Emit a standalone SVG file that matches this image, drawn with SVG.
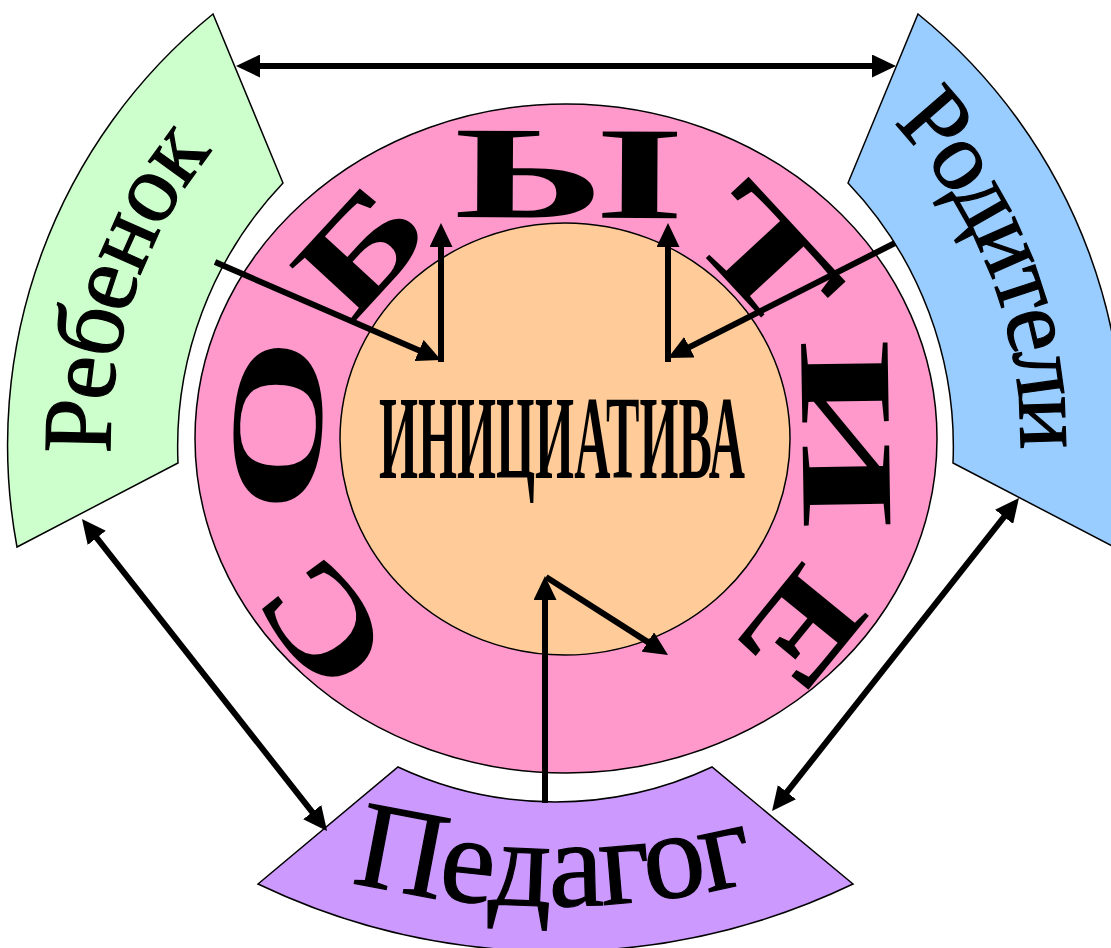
<svg xmlns="http://www.w3.org/2000/svg" width="1111" height="948" viewBox="0 0 1111 948">
<defs>
<style>
.sec{stroke:#000;stroke-width:1.5}
.ring{stroke:#000;stroke-width:1.5}
.lbl{font-family:"Liberation Serif","Times New Roman",serif;fill:#000;text-anchor:middle}
.heavy{stroke:#000;stroke-width:1.2}
.big{font-family:"Liberation Serif","Times New Roman",serif;font-weight:bold;font-size:132px;text-anchor:middle;fill:#000}
.conn line{stroke:#000;stroke-width:6;fill:none}
</style>
<marker id="ah" viewBox="0 0 24 23" markerWidth="24" markerHeight="23" refX="16" refY="11.5" orient="auto-start-reverse" markerUnits="userSpaceOnUse"><path d="M0,0 L24,11.5 L0,23 Z" fill="#000"/></marker>
<path id="pReb" d="M137.9,593.6 A455,455 0 0 1 304.5,65.3"/>
<path id="pRod" d="M793,44 A455,455 0 0 1 1005,555.8"/>
<path id="pPed" d="M300,867.5 A850,850 0 0 0 806,867.5"/>
</defs>
<rect width="1111" height="948" fill="#fff"/>
<g id="rebenok">
<path class="sec" fill="#CCFFCC" d="M213,14 A555,555 0 0 0 17,547 L178,463 A383,383 0 0 1 283,183 Z"/>
<text class="lbl heavy" font-size="98" letter-spacing="-2"><textPath href="#pReb" startOffset="305">Ребенок</textPath></text>
</g>
<g id="roditeli">
<path class="sec" fill="#99CCFF" d="M918,14 A555,555 0 0 1 1114,547 L953,463 A383,383 0 0 0 848,183 Z"/>
<text class="lbl heavy" font-size="98" letter-spacing="-4"><textPath href="#pRod" startOffset="306">Родители</textPath></text>
</g>
<g id="pedagog">
<path class="sec" fill="#CC99FF" d="M258,884 L398,767 A370,370 0 0 0 712,767 L853,884 A690,690 0 0 1 258,884 Z"/>
<text class="lbl heavy" font-size="124" letter-spacing="-2"><textPath href="#pPed" startOffset="50%">Педагог</textPath></text>
</g>
<g id="sobytie">
<ellipse class="ring" cx="566" cy="438.5" rx="371" ry="334.5" fill="#FF99CC"/>
<text class="big" transform="translate(322.5,624) rotate(-127.3) scale(1.35,1)" y="44">С</text>
<text class="big" transform="translate(279,425.5) rotate(-87.4) scale(1.72,1)" y="42" font-size="124">О</text>
<text class="big" transform="translate(361,250) rotate(-47.4) scale(1.45,1)" y="44">Б</text>
<text class="big" transform="translate(567.5,173.5) rotate(0.3) scale(1.75,1)" y="44">Ы</text>
<text class="big" transform="translate(766,258) rotate(47.2) scale(1.7,1)" y="44">Т</text>
<text class="big" transform="translate(846.5,434) rotate(89.1) scale(1.85,1)" y="44">И</text>
<text class="big" transform="translate(801.7,631) rotate(129.2) scale(1.3,1)" y="44">Е</text>
</g>
<g id="iniciativa">
<ellipse class="ring" cx="565" cy="439" rx="225" ry="216" fill="#FFCC99"/>
<text class="lbl" x="562" y="478" font-size="118" font-weight="bold" textLength="366" lengthAdjust="spacingAndGlyphs">ИНИЦИАТИВА</text>
</g>
<g id="connectors" class="conn">
<line x1="244" y1="66" x2="888" y2="66" marker-start="url(#ah)" marker-end="url(#ah)"/>
<line x1="86.9" y1="525.3" x2="322.1" y2="824.7" marker-start="url(#ah)" marker-end="url(#ah)"/>
<line x1="1014" y1="504.3" x2="777" y2="804.7" marker-start="url(#ah)" marker-end="url(#ah)"/>
<line x1="215" y1="262" x2="433.7" y2="356.8" marker-end="url(#ah)"/>
<line x1="441" y1="362" x2="441" y2="231" marker-end="url(#ah)"/>
<line x1="895" y1="243" x2="675.1" y2="354.4" marker-end="url(#ah)"/>
<line x1="668" y1="362" x2="668" y2="231" marker-end="url(#ah)"/>
<line x1="545" y1="803" x2="545" y2="584" marker-end="url(#ah)"/>
<line x1="546" y1="577" x2="661.3" y2="650.6" marker-end="url(#ah)"/>
</g>
</svg>
